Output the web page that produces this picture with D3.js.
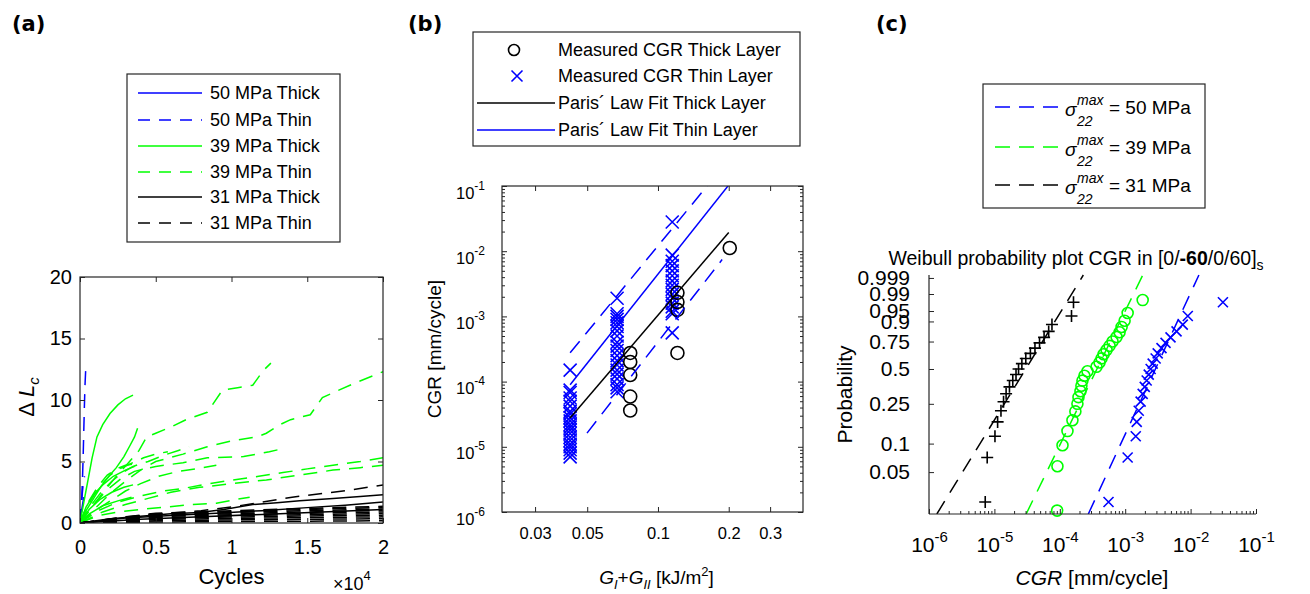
<!DOCTYPE html>
<html><head><meta charset="utf-8">
<script src="https://cdn.jsdelivr.net/npm/d3@7/dist/d3.min.js"></script>
<style>
html,body{margin:0;padding:0;background:#fff;}
svg{display:block;}
</style></head><body>
<svg id="chart" width="1310" height="594"></svg>
<script>
// ================= DATA =================
// ---- Panel (a): crack length vs cycles ----
const aXTicks = [0, 5000, 10000, 15000, 20000];
const aXTickLabels = ["0", "0.5", "1", "1.5", "2"];
const aYTicks = [0, 5, 10, 15, 20];
const aLegendLabels = ["50 MPa Thick", "50 MPa Thin", "39 MPa Thick", "39 MPa Thin", "31 MPa Thick", "31 MPa Thin"];
const a50Thick = [
  [[0,0],[60,0.5],[120,1.1],[180,1.6],[250,2.1]]
];
const a50Thin = [
  [[0,0],[60,1.0],[120,2.2],[170,3.8],[210,5.5],[250,7.5],[290,9.5],[330,11.2],[370,12.3],[420,12.8]],
  [[0,0],[80,1.2],[150,2.4],[220,3.3],[300,3.8]]
];
const a39Thick = [
  [[0,0],[150,1.0],[300,2.0],[530,3.5],[800,5.3],[1120,7.0],[1500,8.0],[1980,8.9],[2500,9.6],[3000,10.1],[3500,10.4]],
  [[0,0],[400,1.0],[900,2.0],[1400,3.0],[1900,3.8],[2400,4.5],[2900,5.4],[3300,6.3],[3600,7.0],[3800,7.7]],
  [[0,0],[400,1.3],[900,2.3],[1500,3.1],[2200,3.8],[3000,4.3],[3600,4.6]],
  [[0,0],[600,1.1],[1300,1.9],[2100,2.5],[2900,2.9],[3500,3.1]],
  [[0,0],[700,0.8],[1500,1.4],[2500,1.8],[3400,2.1]]
];
const a39Thin = [
  [[0,0],[800,1.3],[1600,2.6],[2400,3.8],[3200,4.9],[3900,5.9],[4400,7.0],[5000,7.3],[6000,7.8],[7000,8.4],[8400,9.0],[9400,10.8],[10400,11.0],[11400,11.2],[12100,12.4],[12600,13.0]],
  [[0,0],[1000,1.2],[2000,2.4],[3000,3.4],[4000,4.3],[5000,5.0],[6800,5.6],[8400,6.2],[10100,6.7],[11700,7.0],[12300,7.3],[13200,8.0],[13900,8.4],[15200,8.8],[16000,10.2],[18000,11.3],[20000,12.3]],
  [[0,0],[900,1.5],[1800,2.7],[2700,3.6],[3600,4.2],[5000,4.6],[6800,4.9],[8400,5.3],[10800,5.4],[12500,5.8],[13600,6.1]],
  [[0,0],[1200,1.0],[2500,1.7],[4000,2.2],[5500,2.6],[6800,2.8],[8500,3.2],[10100,3.5],[11800,3.8],[13400,4.1],[15000,4.4],[16700,4.7],[18500,5.0],[20000,5.3]],
  [[0,0],[1500,0.9],[3000,1.5],[4500,2.0],[6000,2.5],[7900,2.9],[10000,3.2],[12300,3.5],[14500,3.9],[16700,4.3],[18500,4.5],[20000,4.7]],
  [[0,0],[700,1.4],[1400,2.5],[2100,3.4],[2800,4.1],[3500,4.6],[4500,5.0],[5500,5.5],[6500,5.9],[7200,6.2]],
  [[0,0],[1000,1.0],[2000,1.8],[3000,2.6],[4000,3.2],[5200,3.8],[6500,4.2],[7700,4.4],[9000,4.7]],
  [[0,0],[1200,0.6],[2500,0.9],[4000,1.1],[5700,1.3],[7400,1.5],[9000,1.6],[10200,1.9],[11200,2.1]],
  [[0,0],[400,1.2],[900,2.2],[1400,3.1],[2000,3.9],[2600,4.4],[3300,4.8],[4200,5.3],[5000,5.6],[5800,5.8]],
  [[0,0],[600,1.8],[1200,3.0],[1800,3.9],[2400,4.4],[3000,4.7],[3600,4.8]]
];
const a31Thick = [
  [[0,0],[2000,0.35],[4000,0.55],[6000,0.75],[7900,0.85],[9500,1.1],[11400,1.5],[13000,1.65],[14500,1.8],[16700,2.0],[18500,2.15],[20000,2.3]],
  [[0,0],[3000,0.4],[6000,0.6],[9000,0.8],[12000,1.0],[15000,1.25],[17500,1.45],[20000,1.7]],
  [[0,0],[4000,0.3],[8000,0.5],[12000,0.7],[16000,0.9],[20000,1.1]]
];
const a31Thin = [
  [[0,0],[3000,0.5],[6000,0.8],[8000,1.0],[10000,1.3],[12000,1.7],[14000,2.1],[16000,2.4],[18000,2.7],[20000,3.1]],
  [[0,0],[5000,0.08],[10000,0.12],[15000,0.15],[20000,0.18]],
  [[0,0],[5000,0.18],[10000,0.25],[15000,0.30],[20000,0.35]],
  [[0,0],[5000,0.28],[10000,0.37],[15000,0.44],[20000,0.50]],
  [[0,0],[5000,0.36],[10000,0.48],[15000,0.57],[20000,0.64]],
  [[0,0],[5000,0.44],[10000,0.58],[15000,0.68],[20000,0.77]],
  [[0,0],[5000,0.52],[10000,0.67],[15000,0.79],[20000,0.90]],
  [[0,0],[5000,0.60],[10000,0.76],[15000,0.90],[20000,1.02]],
  [[0,0],[5000,0.67],[10000,0.85],[15000,1.00],[20000,1.14]],
  [[0,0],[5000,0.74],[10000,0.93],[15000,1.10],[20000,1.26]],
  [[0,0],[5000,0.80],[10000,1.00],[15000,1.18],[20000,1.36]]
];

// ---- Panel (b): CGR vs energy release rate ----
const bXTicks = [0.03, 0.05, 0.1, 0.2, 0.3];
const bXTickLabels = ["0.03", "0.05", "0.1", "0.2", "0.3"];
const bYDecades = [1e-6, 1e-5, 1e-4, 1e-3, 1e-2, 1e-1];
const bYExponents = ["-6", "-5", "-4", "-3", "-2", "-1"];
const bLegendLabels = ["Measured CGR Thick Layer", "Measured CGR Thin Layer", "Paris\u00b4 Law Fit Thick Layer", "Paris\u00b4 Law Fit Thin Layer"];
const bThickG = [0.0762,0.0762,0.0762,0.0762,0.0762,0.121,0.121,0.121,0.121,0.202];
const bThickCGR = [2.75e-4,2.0e-4,1.26e-4,5.9e-5,3.6e-5,2.3e-3,1.66e-3,1.26e-3,2.75e-4,1.12e-2];
const bThinG = [
  0.0423,0.0423,0.0423,0.0423,0.0423,0.0423,0.0423,0.0423,0.0423,0.0423,0.0423,0.0423,0.0423,0.0423,0.0423,0.0423,0.0423,0.0423,0.0423,0.0423,0.0423,
  0.067,0.067,0.067,0.067,0.067,0.067,0.067,0.067,0.067,0.067,0.067,0.067,0.067,0.067,0.067,0.067,0.067,0.067,0.067,0.067,
  0.115,0.115,0.115,0.115,0.115,0.115,0.115,0.115,0.115,0.115,0.115,0.115,0.115,0.115,0.115,0.115
];
const bThinCGR = [
  1.5e-4,7.4e-5,6.8e-5,5.6e-5,5.0e-5,4.2e-5,3.5e-5,3.2e-5,2.8e-5,2.5e-5,2.2e-5,2.0e-5,1.8e-5,1.6e-5,1.4e-5,1.25e-5,1.1e-5,1.0e-5,9e-6,8e-6,7e-6,
  1.9e-3,1.1e-3,1.0e-3,9e-4,8e-4,7e-4,6e-4,5e-4,4e-4,3.5e-4,3e-4,2.5e-4,2.1e-4,1.8e-4,1.5e-4,1.3e-4,1.1e-4,9e-5,8e-5,7e-5,
  2.8e-2,8.7e-3,7e-3,6e-3,5e-3,4.2e-3,3.5e-3,3.0e-3,2.6e-3,2.2e-3,1.9e-3,1.6e-3,1.4e-3,1.2e-3,1.1e-3,5.6e-4
];
// Paris law fits CGR = 10^logC * G^m
const bFitLogC = [1.238, 2.188, 2.472, 1.238];
const bFitM    = [4.22, 4.54, 4.39, 4.63];
const bFitGmin = [0.0423, 0.0423, 0.0423, 0.0499];
const bFitGmax = [0.2, 0.2, 0.17, 0.1875];

// ---- Panel (c): Weibull probability plot ----
const cXDecades = [1e-6, 1e-5, 1e-4, 1e-3, 1e-2, 1e-1];
const cXExponents = ["-6", "-5", "-4", "-3", "-2", "-1"];
const cYTicks = [0.05, 0.1, 0.25, 0.5, 0.75, 0.9, 0.95, 0.99, 0.999];
const cYTickLabels = ["0.05", "0.1", "0.25", "0.5", "0.75", "0.9", "0.95", "0.99", "0.999"];
const cLegendStress = ["50 MPa", "39 MPa", "31 MPa"];
const c31CGR = [7.24e-6,7.76e-6,1.02e-5,1.12e-5,1.26e-5,1.38e-5,1.51e-5,1.70e-5,1.91e-5,2.14e-5,2.34e-5,2.63e-5,3.02e-5,3.55e-5,4.17e-5,4.90e-5,5.75e-5,6.76e-5,7.59e-5,1.51e-4,1.62e-4];
const c39CGR = [9.1e-5,9.2e-5,1.10e-4,1.31e-4,1.56e-4,1.73e-4,1.86e-4,1.93e-4,2.07e-4,2.14e-4,2.22e-4,2.38e-4,2.65e-4,3.64e-4,4.05e-4,4.35e-4,4.67e-4,5.19e-4,5.77e-4,6.41e-4,7.38e-4,8.20e-4,8.81e-4,9.79e-4,1.09e-3,1.85e-3];
const c50CGR = [5.56e-4,1.09e-3,1.45e-3,1.50e-3,1.61e-3,1.72e-3,1.85e-3,1.99e-3,2.13e-3,2.29e-3,2.45e-3,2.63e-3,2.92e-3,3.14e-3,3.59e-3,4.14e-3,4.93e-3,6.10e-3,7.59e-3,9.06e-3,3.12e-2];
// Weibull fits: scale a, shape b
const cFitScale = [3.67e-3, 4.74e-4, 4.12e-5];
const cFitShape = [1.55, 1.47, 1.17];

// ================= DRAWING =================
const FONT = '"Liberation Sans", Arial, Helvetica, sans-serif';
const AXC = '#262626';
const BLUE = '#0000ff', GREEN = '#00ff00', BLACK = '#000000';
const svg = d3.select('#chart');
svg.append('rect').attr('width', 1310).attr('height', 594).attr('fill', '#fff');
const defs = svg.append('defs');
function clip(id, x, y, w, h) {
  defs.append('clipPath').attr('id', id).append('rect').attr('x', x).attr('y', y).attr('width', w).attr('height', h);
}
function styleAxis(sel, fs) {
  sel.select('.domain').remove();
  sel.selectAll('.tick line').attr('stroke', AXC).attr('stroke-width', 1);
  sel.selectAll('.tick text').attr('font-family', FONT).attr('font-size', fs).attr('fill', '#000');
}
function panelLabel(x, t) {
  svg.append('text').attr('x', x).attr('y', 31).attr('font-family', '"DejaVu Sans", Verdana, sans-serif')
    .attr('font-weight', 'bold').attr('font-size', 21).text(t);
}

// ---------- Panel (a) ----------
{
  const L = 80, R = 383, T = 277, B = 523;
  const x = d3.scaleLinear([0, 20000], [L, R]);
  const y = d3.scaleLinear([0, 20], [B, T]);
  const g = svg.append('g');
  clip('clipA', L, T, R - L, B - T);
  const plot = g.append('g').attr('clip-path', 'url(#clipA)');
  const line = d3.line().x(d => x(d[0])).y(d => y(d[1]));
  const series = [
    [a50Thick, BLUE, null], [a50Thin, BLUE, '14,9'],
    [a39Thick, GREEN, null], [a39Thin, GREEN, '14,9'],
    [a31Thick, BLACK, null], [a31Thin, BLACK, '14,9']
  ];
  series.forEach(([arr, col, dash]) => {
    plot.selectAll(null).data(arr).enter().append('path')
      .attr('d', line).attr('fill', 'none').attr('stroke', col).attr('stroke-width', 1.5)
      .attr('stroke-dasharray', dash);
  });
  const ax1 = g.append('g').attr('transform', `translate(0,${B})`)
    .call(d3.axisBottom(x).tickValues(aXTicks).tickFormat((d, i) => aXTickLabels[i]).tickSizeInner(-5).tickSizeOuter(0).tickPadding(17));
  styleAxis(ax1, 20);
  const ax2 = g.append('g').attr('transform', `translate(0,${T})`)
    .call(d3.axisTop(x).tickValues(aXTicks).tickFormat('').tickSizeInner(-5).tickSizeOuter(0));
  styleAxis(ax2, 20);
  const ay1 = g.append('g').attr('transform', `translate(${L},0)`)
    .call(d3.axisLeft(y).tickValues(aYTicks).tickSizeInner(-5).tickSizeOuter(0).tickPadding(8));
  styleAxis(ay1, 20);
  const ay2 = g.append('g').attr('transform', `translate(${R},0)`)
    .call(d3.axisRight(y).tickValues(aYTicks).tickFormat('').tickSizeInner(-5).tickSizeOuter(0));
  styleAxis(ay2, 20);
  g.append('rect').attr('x', L).attr('y', T).attr('width', R - L).attr('height', B - T)
    .attr('fill', 'none').attr('stroke', AXC).attr('stroke-width', 1.2);
  g.append('text').attr('x', (L + R) / 2).attr('y', 584).attr('text-anchor', 'middle')
    .attr('font-family', FONT).attr('font-size', 22).text('Cycles');
  const ex = g.append('text').attr('x', 333).attr('y', 590).attr('font-family', FONT).attr('font-size', 18);
  ex.append('tspan').text('\u00d710');
  ex.append('tspan').attr('dy', -10).attr('font-size', 13).text('4');
  const yl = g.append('text').attr('transform', 'translate(34,397) rotate(-90)').attr('text-anchor', 'middle')
    .attr('font-family', FONT).attr('font-size', 22);
  yl.append('tspan').text('\u0394 ');
  yl.append('tspan').attr('font-style', 'italic').text('L');
  yl.append('tspan').attr('font-style', 'italic').attr('font-size', 15).attr('dy', 5).text('c');
  // legend
  const lg = g.append('g');
  lg.append('rect').attr('x', 127).attr('y', 74).attr('width', 213).attr('height', 168)
    .attr('fill', '#fff').attr('stroke', AXC).attr('stroke-width', 1.2);
  const rowsY = [93, 120, 146, 172, 197, 223];
  const lcol = [BLUE, BLUE, GREEN, GREEN, BLACK, BLACK];
  aLegendLabels.forEach((lab, i) => {
    lg.append('line').attr('x1', 138).attr('x2', 202).attr('y1', rowsY[i]).attr('y2', rowsY[i])
      .attr('stroke', lcol[i]).attr('stroke-width', 1.5).attr('stroke-dasharray', i % 2 ? '12,9' : null);
    lg.append('text').attr('x', 210).attr('y', rowsY[i] + 6).attr('font-family', FONT).attr('font-size', 18).text(lab);
  });
}

// ---------- Panel (b) ----------
{
  const L = 502, R = 803, T = 186, B = 512;
  const x = d3.scaleLog([0.0217, 0.414], [L, R]);
  const y = d3.scaleLog([1e-6, 1e-1], [B, T]);
  const g = svg.append('g');
  clip('clipB', L, T, R - L, B - T);
  const plot = g.append('g').attr('clip-path', 'url(#clipB)');
  const s = 6.5;
  plot.selectAll(null).data(bThinCGR).enter().append('path')
    .attr('d', (d, i) => { const cx = x(bThinG[i]), cy = y(d); return `M${cx-s},${cy-s}L${cx+s},${cy+s}M${cx-s},${cy+s}L${cx+s},${cy-s}`; })
    .attr('stroke', BLUE).attr('stroke-width', 1.6).attr('fill', 'none');
  plot.selectAll(null).data(bThickCGR).enter().append('circle')
    .attr('cx', (d, i) => x(bThickG[i])).attr('cy', d => y(d)).attr('r', 6.5)
    .attr('fill', 'none').attr('stroke', BLACK).attr('stroke-width', 1.6);
  const fitCol = [BLACK, BLUE, BLUE, BLUE];
  const fitDash = [null, null, '15,9', '15,9'];
  const fline = d3.line().x(d => x(d[0])).y(d => y(d[1]));
  bFitLogC.forEach((lc, i) => {
    const pts = [bFitGmin[i], bFitGmax[i]].map(G => [G, Math.pow(10, lc + bFitM[i] * Math.log10(G))]);
    plot.append('path').attr('d', fline(pts)).attr('fill', 'none').attr('stroke', fitCol[i])
      .attr('stroke-width', 1.5).attr('stroke-dasharray', fitDash[i]);
  });
  const minors = [];
  bYDecades.slice(0, -1).forEach(d => { for (let k = 2; k <= 9; k++) minors.push(d * k); });
  const ayl = g.append('g').attr('transform', `translate(${L},0)`)
    .call(d3.axisLeft(y).tickValues(bYDecades).tickFormat('').tickSizeInner(-5).tickSizeOuter(0));
  styleAxis(ayl, 16.5);
  const ayr = g.append('g').attr('transform', `translate(${R},0)`)
    .call(d3.axisRight(y).tickValues(bYDecades).tickFormat('').tickSizeInner(-5).tickSizeOuter(0));
  styleAxis(ayr, 16.5);
  const aml = g.append('g').attr('transform', `translate(${L},0)`)
    .call(d3.axisLeft(y).tickValues(minors).tickFormat('').tickSizeInner(-3).tickSizeOuter(0));
  styleAxis(aml, 16.5);
  const amr = g.append('g').attr('transform', `translate(${R},0)`)
    .call(d3.axisRight(y).tickValues(minors).tickFormat('').tickSizeInner(-3).tickSizeOuter(0));
  styleAxis(amr, 16.5);
  ayl.selectAll('.tick').each(function(d, i) {
    const t = d3.select(this).append('text').attr('x', -17).attr('y', 12).attr('text-anchor', 'end')
      .attr('font-family', FONT).attr('font-size', 16.5).attr('fill', '#000');
    t.append('tspan').text('10');
    t.append('tspan').attr('dy', -9).attr('font-size', 12).text(bYExponents[i]);
  });
  const axb = g.append('g').attr('transform', `translate(0,${B})`)
    .call(d3.axisBottom(x).tickValues(bXTicks).tickFormat((d, i) => bXTickLabels[i]).tickSizeInner(-5).tickSizeOuter(0).tickPadding(15));
  styleAxis(axb, 16.5);
  const axt = g.append('g').attr('transform', `translate(0,${T})`)
    .call(d3.axisTop(x).tickValues(bXTicks).tickFormat('').tickSizeInner(-5).tickSizeOuter(0));
  styleAxis(axt, 16.5);
  g.append('rect').attr('x', L).attr('y', T).attr('width', R - L).attr('height', B - T)
    .attr('fill', 'none').attr('stroke', AXC).attr('stroke-width', 1.2);
  const xl = g.append('text').attr('x', (L + R) / 2 + 4).attr('y', 584).attr('text-anchor', 'middle')
    .attr('font-family', FONT).attr('font-size', 19);
  xl.append('tspan').attr('font-style', 'italic').text('G');
  xl.append('tspan').attr('font-style', 'italic').attr('font-size', 13).attr('dy', 5).text('I');
  xl.append('tspan').attr('dy', -5).text('+');
  xl.append('tspan').attr('font-style', 'italic').text('G');
  xl.append('tspan').attr('font-style', 'italic').attr('font-size', 13).attr('dy', 5).text('II');
  xl.append('tspan').attr('dy', -5).text(' [kJ/m');
  xl.append('tspan').attr('font-size', 13).attr('dy', -8).text('2');
  xl.append('tspan').attr('dy', 8).text(']');
  g.append('text').attr('transform', `translate(441,${(T + B) / 2}) rotate(-90)`).attr('text-anchor', 'middle')
    .attr('font-family', FONT).attr('font-size', 19).text('CGR [mm/cycle]');
  const lg = g.append('g');
  lg.append('rect').attr('x', 473).attr('y', 32).attr('width', 327).attr('height', 114)
    .attr('fill', '#fff').attr('stroke', AXC).attr('stroke-width', 1.2);
  const rowsY = [50, 76, 103, 130];
  lg.append('circle').attr('cx', 514).attr('cy', rowsY[0]).attr('r', 5.5).attr('fill', 'none').attr('stroke', BLACK).attr('stroke-width', 1.6);
  lg.append('path').attr('d', `M${517-5.5},${rowsY[1]-5.5}L${517+5.5},${rowsY[1]+5.5}M${517-5.5},${rowsY[1]+5.5}L${517+5.5},${rowsY[1]-5.5}`)
    .attr('stroke', BLUE).attr('stroke-width', 1.6);
  lg.append('line').attr('x1', 477).attr('x2', 555).attr('y1', rowsY[2]).attr('y2', rowsY[2]).attr('stroke', BLACK).attr('stroke-width', 1.5);
  lg.append('line').attr('x1', 477).attr('x2', 555).attr('y1', rowsY[3]).attr('y2', rowsY[3]).attr('stroke', BLUE).attr('stroke-width', 1.5);
  bLegendLabels.forEach((lab, i) => {
    lg.append('text').attr('x', 558).attr('y', rowsY[i] + 6).attr('font-family', FONT).attr('font-size', 18).text(lab);
  });
}

// ---------- Panel (c) ----------
{
  const L = 929, R = 1256, T = 275, B = 514;
  const x = d3.scaleLog([1e-6, 1e-1], [L, R]);
  const wb = p => Math.log(-Math.log(1 - p));
  const y = d3.scaleLinear([-4.028, 2.007], [B, T]);
  const g = svg.append('g');
  clip('clipC', L, T - 2, R - L, B - T + 2);
  const plot = g.append('g').attr('clip-path', 'url(#clipC)');
  const cols = [BLUE, GREEN, BLACK];
  cFitScale.forEach((a, i) => {
    const b = cFitShape[i];
    const pts = y.domain().map(w => [a * Math.exp(w / b), w]);
    plot.append('path').attr('d', d3.line().x(d => x(d[0])).y(d => y(d[1]))(pts))
      .attr('fill', 'none').attr('stroke', cols[i]).attr('stroke-width', 1.5).attr('stroke-dasharray', '15,10');
  });
  const rank = arr => arr.map((v, i) => [v, wb((i + 0.5) / arr.length)]);
  g.selectAll(null).data(rank(c31CGR)).enter().append('path')
    .attr('d', d => { const cx = x(d[0]), cy = y(d[1]); return `M${cx-6},${cy}L${cx+6},${cy}M${cx},${cy-6}L${cx},${cy+6}`; })
    .attr('stroke', BLACK).attr('stroke-width', 1.6);
  g.selectAll(null).data(rank(c39CGR)).enter().append('circle')
    .attr('cx', d => x(d[0])).attr('cy', d => y(d[1])).attr('r', 5.5)
    .attr('fill', 'none').attr('stroke', GREEN).attr('stroke-width', 1.6);
  g.selectAll(null).data(rank(c50CGR)).enter().append('path')
    .attr('d', d => { const cx = x(d[0]), cy = y(d[1]); return `M${cx-5},${cy-5}L${cx+5},${cy+5}M${cx-5},${cy+5}L${cx+5},${cy-5}`; })
    .attr('stroke', BLUE).attr('stroke-width', 1.6);
  const minors = [];
  cXDecades.slice(0, -1).forEach(d => { for (let k = 2; k <= 9; k++) minors.push(d * k); });
  const axb = g.append('g').attr('transform', `translate(0,${B})`)
    .call(d3.axisBottom(x).tickValues(cXDecades).tickFormat('').tickSizeInner(-5).tickSizeOuter(0));
  styleAxis(axb, 21);
  const axm = g.append('g').attr('transform', `translate(0,${B})`)
    .call(d3.axisBottom(x).tickValues(minors).tickFormat('').tickSizeInner(-3).tickSizeOuter(0));
  styleAxis(axm, 21);
  axb.selectAll('.tick').each(function(d, i) {
    const t = d3.select(this).append('text').attr('x', 0).attr('y', 38).attr('text-anchor', 'middle')
      .attr('font-family', FONT).attr('font-size', 21).attr('fill', '#000');
    t.append('tspan').text('10');
    t.append('tspan').attr('dy', -10).attr('font-size', 15).text(cXExponents[i]);
  });
  const ayl = g.append('g').attr('transform', `translate(${L},0)`)
    .call(d3.axisLeft(y).tickValues(cYTicks.map(wb)).tickFormat((d, i) => cYTickLabels[i]).tickSizeInner(-5).tickSizeOuter(0).tickPadding(19));
  styleAxis(ayl, 21);
  g.append('line').attr('x1', L).attr('x2', L).attr('y1', T).attr('y2', B).attr('stroke', AXC).attr('stroke-width', 1.2);
  g.append('line').attr('x1', L).attr('x2', R).attr('y1', B).attr('y2', B).attr('stroke', AXC).attr('stroke-width', 1.2);
  const xl = g.append('text').attr('x', 1092).attr('y', 585).attr('text-anchor', 'middle')
    .attr('font-family', FONT).attr('font-size', 21);
  xl.append('tspan').attr('font-style', 'italic').text('CGR');
  xl.append('tspan').text(' [mm/cycle]');
  g.append('text').attr('transform', `translate(852,${(T + B) / 2}) rotate(-90)`).attr('text-anchor', 'middle')
    .attr('font-family', FONT).attr('font-size', 21).text('Probability');
  const ti = g.append('text').attr('x', 1076).attr('y', 265).attr('text-anchor', 'middle')
    .attr('font-family', FONT).attr('font-size', 19.5);
  ti.append('tspan').text('Weibull probability plot CGR in [0/');
  ti.append('tspan').attr('font-weight', 'bold').text('-60');
  ti.append('tspan').text('/0/60]');
  ti.append('tspan').attr('font-size', 14).attr('dy', 5).text('s');
  const lg = g.append('g');
  lg.append('rect').attr('x', 983).attr('y', 84).attr('width', 222).attr('height', 124)
    .attr('fill', '#fff').attr('stroke', AXC).attr('stroke-width', 1.2);
  const rowsY = [107, 147, 185];
  cLegendStress.forEach((lab, i) => {
    const ry = rowsY[i];
    lg.append('line').attr('x1', 995).attr('x2', 1058).attr('y1', ry).attr('y2', ry)
      .attr('stroke', cols[i]).attr('stroke-width', 1.5).attr('stroke-dasharray', '15,9');
    lg.append('text').attr('x', 1065).attr('y', ry + 9).attr('font-family', FONT).attr('font-style', 'italic').attr('font-size', 19).text('\u03c3');
    lg.append('text').attr('x', 1077).attr('y', ry - 2).attr('font-family', FONT).attr('font-style', 'italic').attr('font-size', 14).text('max');
    lg.append('text').attr('x', 1077).attr('y', ry + 19).attr('font-family', FONT).attr('font-style', 'italic').attr('font-size', 14).text('22');
    lg.append('text').attr('x', 1109).attr('y', ry + 7).attr('font-family', FONT).attr('font-size', 19).text('= ' + lab);
  });
}

panelLabel(12, '(a)');
panelLabel(408, '(b)');
panelLabel(876, '(c)');
</script></body></html>
